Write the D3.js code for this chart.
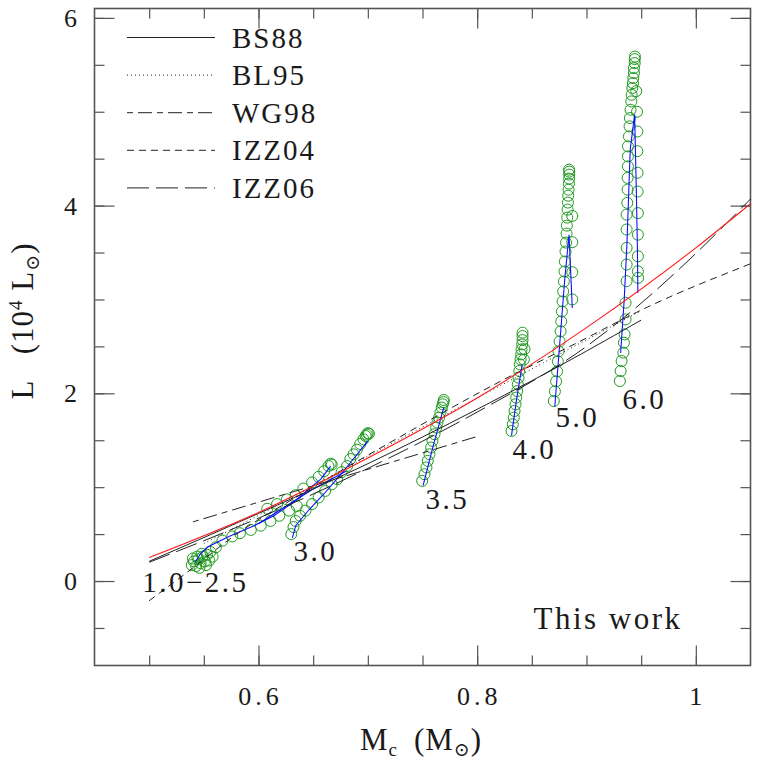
<!DOCTYPE html>
<html>
<head>
<meta charset="utf-8">
<script src="https://cdn.jsdelivr.net/npm/d3@7"></script>
<style>
  body { margin: 0; background: #fff; }
  text { font-family: "Liberation Serif", "DejaVu Serif", serif; fill: #1a1a1a; }
</style>
</head>
<body>
<div id="chart"></div>
<script>
// ---- data ----
const xMinorTicks = [0.5, 0.55, 0.6, 0.65, 0.7, 0.75, 0.8, 0.85, 0.9, 0.95, 1.0];
const xMajorTicks = [0.6, 0.8, 1.0];
const xTickLabels = ["0.6", "0.8", "1"];
const yMinorTicks = [-0.5, 0, 0.5, 1, 1.5, 2, 2.5, 3, 3.5, 4, 4.5, 5, 5.5, 6];
const yMajorTicks = [0, 2, 4, 6];
const yTickLabels = ["0", "2", "4", "6"];

// core mass - luminosity relations (Mc, L/1e4)
const fitThisWork = [[0.5,0.25],[0.6,0.73],[0.7,1.31],[0.8,1.95],[0.9,2.70],[1.0,3.55],[1.05,4.02]];
const relBS88  = [[0.5,0.21],[0.6,0.72],[0.7,1.25],[0.8,1.83],[0.9,2.45],[0.95,2.78]];
const relBL95  = [[0.55,0.40],[0.6,0.70],[0.7,1.33],[0.8,1.95],[0.9,2.57],[0.95,2.88]];
const relWG98  = [[0.54,0.63],[0.8,1.54]];
const relIZZ04 = [[0.5,-0.21],[0.54,0.14],[0.574,0.45],[0.65,1.0],[0.73,1.54],[0.82,2.12],[0.89,2.53],[0.956,2.92],[1.05,3.38]];
const relIZZ06 = [[0.5,0.20],[0.6,0.67],[0.7,1.20],[0.8,1.80],[0.9,2.50],[0.947,2.93],[0.99,3.38],[1.05,4.07]];
const legendNames = ["BS88", "BL95", "WG98", "IZZ04", "IZZ06"];

// thermal pulses of the model tracks (green circles)
const pulses1to25 = [
  [0.539,0.17],[0.541,0.21],[0.543,0.16],[0.545,0.23],[0.547,0.19],[0.549,0.26],[0.551,0.21],[0.553,0.28],
  [0.548,0.29],[0.544,0.26],[0.556,0.31],[0.558,0.26],[0.552,0.17],[0.540,0.24],[0.546,0.14],[0.555,0.22],
  [0.561,0.36],[0.567,0.43],[0.576,0.475],[0.583,0.51],[0.593,0.545],[0.602,0.59],[0.611,0.64],[0.619,0.695],
  [0.628,0.75],[0.635,0.80],[0.608,0.77],[0.617,0.82],[0.626,0.87],[0.634,0.915],[0.641,0.985],[0.649,1.05],
  [0.655,1.11],[0.660,1.17],[0.664,1.225],[0.666,1.25],[0.667,1.24]
];
const pulses30 = [
  [0.630,0.50],[0.632,0.575],[0.634,0.64],[0.638,0.695],[0.643,0.75],[0.649,0.82],[0.655,0.89],[0.661,0.96],
  [0.667,1.03],[0.672,1.085],[0.676,1.16],[0.681,1.225],[0.684,1.30],[0.687,1.35],[0.690,1.40],[0.693,1.46],
  [0.696,1.51],[0.698,1.545],[0.699,1.56],[0.700,1.575],[0.701,1.57]
];
const pulses35 = [
  [0.7497,1.067],[0.7518,1.138],[0.7536,1.21],[0.7548,1.28],[0.7564,1.351],[0.7579,1.422],[0.7591,1.493],[0.7610,1.564],
  [0.7625,1.635],[0.7637,1.688],[0.7652,1.741],[0.7664,1.795],[0.7676,1.848],[0.7685,1.883],[0.7692,1.907],[0.7695,1.929]
];
const pulses40 = [
  [0.8314,1.599],[0.8326,1.670],[0.8335,1.741],[0.8342,1.812],[0.8351,1.883],[0.8357,1.954],[0.8366,2.024],[0.8372,2.096],
  [0.8378,2.167],[0.8385,2.237],[0.8390,2.309],[0.8397,2.362],[0.8403,2.415],[0.8406,2.468],[0.8412,2.521],[0.8415,2.567],
  [0.8415,2.610],[0.8415,2.646],[0.8427,2.36],[0.8433,2.47]
];
const pulses50 = [
  [0.8701,1.918],[0.8711,2.021],[0.8722,2.128],[0.8731,2.234],[0.8738,2.340],[0.8744,2.447],[0.8754,2.553],[0.8763,2.660],
  [0.8769,2.766],[0.8775,2.872],[0.8781,2.979],[0.8787,3.085],[0.8793,3.191],[0.8799,3.298],[0.8802,3.404],[0.8808,3.511],
  [0.8813,3.606],[0.8818,3.702],[0.8820,3.787],[0.8824,3.872],[0.8827,3.957],[0.8830,4.032],[0.8833,4.106],[0.8836,4.170],
  [0.8839,4.234],[0.8841,4.287],[0.8842,4.330],[0.8842,4.362],[0.8840,4.383],
  [0.887,3.89],[0.887,3.61],[0.887,3.29],[0.887,3.00]
];
const pulses60 = [
  [0.9305,2.131],[0.9312,2.237],[0.9321,2.344],[0.9337,2.433],[0.9342,2.539],[0.9348,2.628],[0.9357,2.787],[0.9357,2.965],
  [0.9367,3.195],[0.9367,3.372],[0.9367,3.55],[0.9367,3.745],[0.9367,3.904],[0.9373,4.029],[0.9376,4.170],[0.9376,4.295],
  [0.9379,4.418],[0.9379,4.524],[0.9379,4.631],[0.9388,4.737],[0.9394,4.844],[0.9397,4.933],[0.9403,5.021],[0.9410,5.110],
  [0.9413,5.181],[0.9419,5.252],[0.9425,5.305],[0.9428,5.359],[0.9434,5.412],[0.9434,5.465],[0.9441,5.518],[0.9441,5.561],
  [0.9443,5.588],
  [0.9455,5.22],[0.9462,5.00],[0.9465,4.79],[0.9465,4.58],[0.9467,4.35],[0.9468,4.15],[0.9470,3.92],[0.9470,3.69],
  [0.9470,3.46],[0.9470,3.30],[0.9472,3.23]
];

// luminosity evolution of the tracks (blue lines)
const track25  = [[0.542,0.20],[0.547,0.29],[0.553,0.36],[0.565,0.43],[0.574,0.48],[0.596,0.59],[0.614,0.695],[0.632,0.84],[0.644,0.96],[0.657,1.085],[0.666,1.225]];
const track20  = [[0.600,0.61],[0.620,0.76],[0.650,0.98],[0.680,1.17]];
const track30  = [[0.631,0.46],[0.634,0.59],[0.647,0.77],[0.660,0.93],[0.672,1.09],[0.684,1.26],[0.700,1.49]];
const track35  = [[0.7506,1.02],[0.760,1.45],[0.7695,1.85]];
const track40  = [[0.8314,1.55],[0.836,1.93],[0.8412,2.31]];
const track50  = [[0.871,1.86],[0.876,2.6],[0.880,3.2],[0.884,3.69],[0.8855,3.3],[0.887,2.91]];
const track60  = [[0.9312,2.43],[0.9345,3.0],[0.937,3.6],[0.9388,4.2],[0.940,4.6],[0.944,4.97],[0.9455,4.2],[0.9465,3.6],[0.947,3.07]];

const trackLabels = ["1.0\u22122.5", "3.0", "3.5", "4.0", "5.0", "6.0"];

// ---- layout ----
const W = 764, H = 760;
const svg = d3.select("#chart").append("svg")
  .attr("width", W).attr("height", H);

const x = d3.scaleLinear().domain([0.45, 1.05]).range([94.5, 750.5]);
const y = d3.scaleLinear().domain([-0.9, 6.1]).range([665.5, 8.5]);

const frameColor = "#555";

// ticks through d3 axes, labels drawn separately
function styleAxis(g) {
  g.select(".domain").remove();
  g.selectAll(".tick line").attr("stroke", frameColor).attr("stroke-width", 1.2);
  g.selectAll(".tick text").remove();
}
const axes = [
  [d3.axisBottom(x), `translate(0,${y.range()[0]})`, xMinorTicks, xMajorTicks],
  [d3.axisTop(x), `translate(0,${y.range()[1]})`, xMinorTicks, xMajorTicks],
  [d3.axisLeft(y), `translate(${x.range()[0]},0)`, yMinorTicks, yMajorTicks],
  [d3.axisRight(y), `translate(${x.range()[1]},0)`, yMinorTicks, yMajorTicks]
];
axes.forEach(([axis, tr, minor, major]) => {
  svg.append("g").attr("transform", tr)
    .call(axis.tickValues(minor).tickSize(-10).tickFormat(""))
    .call(styleAxis);
  svg.append("g").attr("transform", tr)
    .call(axis.tickValues(major).tickSize(-20).tickFormat(""))
    .call(styleAxis);
});

// frame
svg.append("rect")
  .attr("x", x.range()[0]).attr("y", y.range()[1])
  .attr("width", x.range()[1] - x.range()[0])
  .attr("height", y.range()[0] - y.range()[1])
  .attr("fill", "none").attr("stroke", frameColor).attr("stroke-width", 1.6);

// tick labels
svg.selectAll(".xlab").data(xMajorTicks).join("text")
  .attr("x", d => x(d) + 2).attr("y", 705)
  .attr("text-anchor", "middle")
  .style("font-size", "26px").style("letter-spacing", "4px")
  .text((d, i) => xTickLabels[i]);
svg.selectAll(".ylab").data(yMajorTicks).join("text")
  .attr("x", 77).attr("y", d => y(d) + 9)
  .attr("text-anchor", "end")
  .style("font-size", "26px")
  .text((d, i) => yTickLabels[i]);

// axis titles
const xt = svg.append("text").attr("x", 421).attr("y", 750)
  .attr("text-anchor", "middle").style("font-size", "31px").style("letter-spacing", "1px");
xt.append("tspan").text("M");
xt.append("tspan").text("c").style("font-size", "19px").attr("dy", 6);
xt.append("tspan").text("\u2009 (M").attr("dy", -6);
xt.append("tspan").text("\u2299").style("font-size", "19px").attr("dy", 6);
xt.append("tspan").text(")").attr("dy", -6);

const yt = svg.append("text").attr("transform", "translate(33,321) rotate(-90)")
  .attr("text-anchor", "middle").style("font-size", "31px").style("letter-spacing", "1px");
yt.append("tspan").text("L\u2002 (10");
yt.append("tspan").text("4").style("font-size", "19px").attr("dy", -11);
yt.append("tspan").text(" L").attr("dy", 11);
yt.append("tspan").text("\u2299").style("font-size", "19px").attr("dy", 6);
yt.append("tspan").text(")").attr("dy", -6);

// plotting area
const plot = svg.append("g");
const smooth = d3.line().x(d => x(d[0])).y(d => y(d[1])).curve(d3.curveMonotoneX);
const straight = d3.line().x(d => x(d[0])).y(d => y(d[1]));

// green pulse circles
[pulses1to25, pulses30, pulses35, pulses40, pulses50, pulses60].forEach(set => {
  plot.append("g").selectAll("circle").data(set).join("circle")
    .attr("cx", d => x(d[0])).attr("cy", d => y(d[1]))
    .attr("r", 5.5)
    .attr("fill", "none").attr("stroke", "#1f9a1f").attr("stroke-width", 1);
});

// blue tracks
[track25, track20, track30, track35, track40, track50, track60].forEach(t => {
  plot.append("path").attr("d", straight(t))
    .attr("fill", "none").attr("stroke", "#1010ff").attr("stroke-width", 1.1);
});

// relations
const relStyles = [
  [relBS88, null],
  [relBL95, "1,3"],
  [relWG98, "6,5,14,5"],
  [relIZZ04, "7,5"],
  [relIZZ06, "22,7"]
];
relStyles.forEach(([rel, dash]) => {
  plot.append("path").attr("d", smooth(rel))
    .attr("fill", "none").attr("stroke", "#222").attr("stroke-width", 1)
    .attr("stroke-dasharray", dash);
});
plot.append("path").attr("d", smooth(fitThisWork))
  .attr("fill", "none").attr("stroke", "#ff1a1a").attr("stroke-width", 1.1);

// track labels (anchors in data units)
const labelAnchors = [[0.4937,-0.117],[0.632,0.213],[0.7527,0.766],[0.8323,1.298],[0.8717,1.638],[0.933,1.83]];
svg.selectAll(".tlab").data(trackLabels).join("text")
  .attr("x", (d, i) => x(labelAnchors[i][0])).attr("y", (d, i) => y(labelAnchors[i][1]))
  .style("font-size", "29px").style("letter-spacing", "2.5px")
  .text(d => d);

svg.append("text").attr("x", x(0.8515)).attr("y", y(-0.51))
  .style("font-size", "31px").style("letter-spacing", "2.5px")
  .text("This work");

// legend
const legend = svg.append("g");
legendNames.forEach((name, i) => {
  const cy = 37.5 + i * 37.6;
  legend.append("line")
    .attr("x1", 127).attr("x2", 215).attr("y1", cy).attr("y2", cy)
    .attr("stroke", "#222").attr("stroke-width", 1)
    .attr("stroke-dasharray", relStyles[i][1]);
  legend.append("text").attr("x", 232).attr("y", cy + 10)
    .style("font-size", "29px").style("letter-spacing", "2px")
    .text(name);
});
</script>
</body>
</html>
